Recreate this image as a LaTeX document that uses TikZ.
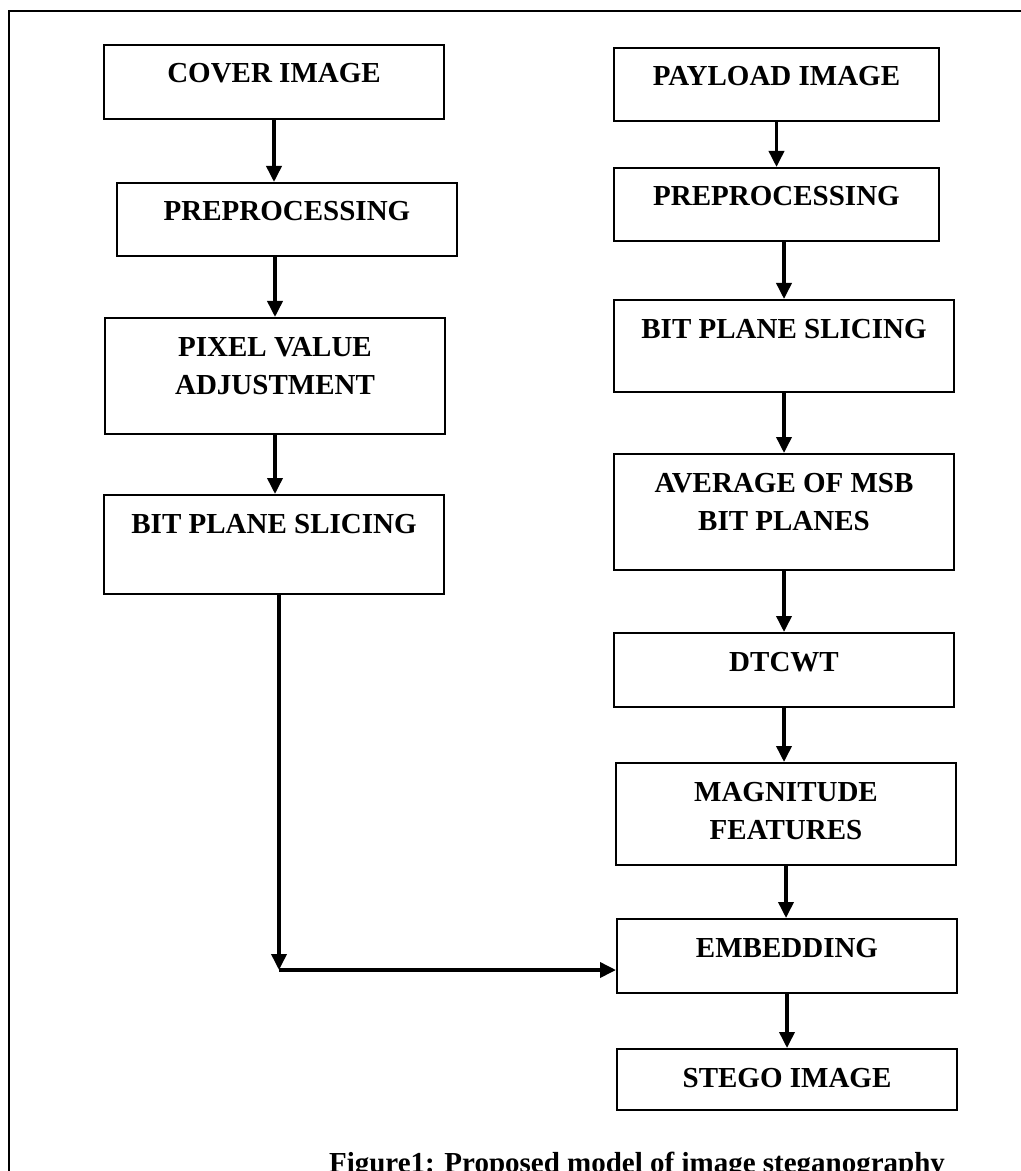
\documentclass[tikz,border=0pt]{standalone}
\usepackage{fontspec}
\setmainfont{Liberation Serif}
\usetikzlibrary{arrows.meta}
\tikzset{
  box/.style={draw, line width=1pt, rectangle, anchor=north west, inner xsep=2pt, inner ysep=0pt,
    minimum width=170pt, text height=19pt, align=center,
    font=\bfseries\fontsize{14.5}{19}\selectfont},
  twoline/.style={text height=38pt},
  arr/.style={line width=1.8pt, -{Triangle[width=7.5pt,length=8pt]}},
}
\begin{document}
\begin{tikzpicture}[x=0.5pt, y=-0.5pt]
  \useasboundingbox (0,0) rectangle (1021,1171);
  \clip (0,0) rectangle (1021,1171);
  \draw[line width=1pt] (9,11) rectangle (1040,1200);

  % cover side
  \node[box, text depth=18pt] (cover) at (103,44) {COVER IMAGE};
  \node[box, text depth=17.5pt] (pre1) at (116,182) {PREPROCESSING};
  \node[box, twoline, text depth=20pt] (pix) at (104,317) {PIXEL VALUE\\ ADJUSTMENT};
  \node[box, text depth=30.5pt] (bps1) at (103,494) {BIT PLANE SLICING};

  % payload side
  \node[box, minimum width=162.5pt, text depth=17.5pt] (pay) at (613,47) {PAYLOAD IMAGE};
  \node[box, minimum width=162.5pt, text depth=17.5pt] (pre2) at (613,167) {PREPROCESSING};
  \node[box, text depth=27pt] (bps2) at (613,299) {BIT PLANE SLICING};
  \node[box, twoline, text depth=20pt] (avg) at (613,453) {AVERAGE OF MSB\\ BIT PLANES};
  \node[box, text depth=18pt] (dtcwt) at (613,632) {DTCWT};
  \node[box, twoline, text depth=13pt] (mag) at (615,762) {MAGNITUDE\\ FEATURES};
  \node[box, text depth=18pt] (embed) at (616,918) {EMBEDDING};
  \node[box, text depth=11.5pt] (stego) at (616,1048) {STEGO IMAGE};

  \node[anchor=base, font=\bfseries\fontsize{14.5}{19}\selectfont] (cap) at (637,1172)
    {Figure1: Proposed model of image steganography};

  % arrows
  \draw[arr] (cover.south) -- (cover.south |- pre1.north);
  \draw[arr] (pix.north |- pre1.south) -- (pix.north);
  \draw[arr] (pix.south) -- (pix.south |- bps1.north);
  \coordinate (join) at (279,970);
  \draw[arr] (join |- bps1.south) -- (join);
  \draw[arr] (join) -- (join -| embed.west);

  \draw[arr] (pay.south) -- (pay.south |- pre2.north);
  \draw[arr] (bps2.north |- pre2.south) -- (bps2.north);
  \draw[arr] (bps2.south) -- (avg.north);
  \draw[arr] (avg.south) -- (dtcwt.north);
  \draw[arr] (dtcwt.south) -- (dtcwt.south |- mag.north);
  \draw[arr] (mag.south) -- (mag.south |- embed.north);
  \draw[arr] (embed.south) -- (embed.south |- stego.north);
\end{tikzpicture}
\end{document}
